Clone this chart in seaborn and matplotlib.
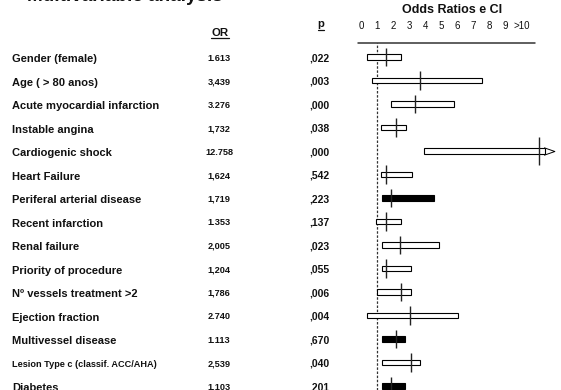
import numpy as np
import matplotlib
matplotlib.use("Agg")
import matplotlib.pyplot as plt
from matplotlib.lines import Line2D
from matplotlib.transforms import blended_transform_factory
import seaborn as sns

# ---- data ----
labels = ["Gender (female)", "Age ( > 80 anos)", "Acute myocardial infarction",
          "Instable angina", "Cardiogenic shock", "Heart Failure",
          "Periferal arterial disease", "Recent infarction", "Renal failure",
          "Priority of procedure", "N\u00ba vessels treatment >2", "Ejection fraction",
          "Multivessel disease", "Lesion Type c (classif. ACC/AHA)", "Diabetes"]
or_text = ["1.613", "3,439", "3.276", "1,732", "12.758", "1,624", "1,719", "1.353",
           "2,005", "1,204", "1,786", "2.740", "1.113", "2,539", "1.103"]
p_text = [",022", ",003", ",000", ",038", ",000", ",542", ",223", ",137",
          ",023", ",055", ",006", ",004", ",670", ",040", ",201"]
# positions as drawn on the odds-ratio scale
or_pos = [1.56, 3.68, 3.35, 2.16, 11.1, 1.58, 1.89, 1.56, 2.43, 1.56, 2.48, 3.08, 2.18, 3.1, 1.89]
ci_low = [0.39, 0.67, 1.89, 1.27, 3.95, 1.27, 1.29, 0.96, 1.33, 1.29, 0.98, 0.39, 1.33, 1.29, 1.33]
ci_high = [2.51, 7.57, 5.78, 2.79, 11.48, 3.2, 4.55, 2.51, 4.87, 3.1, 3.1, 6.07, 2.77, 3.7, 2.77]
filled = [False, False, False, False, False, False, True, False, False, False,
          False, False, True, False, True]
tick_vals = list(range(11))
tick_labels = ["0", "1", "2", "3", "4", "5", "6", "7", "8", "9", ">10"]

sns.set_theme(style="white")
plt.rcParams["font.family"] = ["Liberation Sans", "DejaVu Sans"]

W, H = 561, 390
fig = plt.figure(figsize=(W / 100, H / 100), dpi=100)


def fx(px):
    return px / W


def fy(py):
    return 1 - py / H


# forest panel: x scale 0 -> 361 px, 16.03 px per unit
x0, unit = 361.0, 16.03
ax_left, ax_right = 345.0, 561.0
ax_top = 43.0
ax = fig.add_axes([fx(ax_left), 0, fx(ax_right - ax_left), (H - ax_top) / H])
ax.set_xlim((ax_left - x0) / unit, (ax_right - x0) / unit)
row0, step = 57.0, 23.5
ax.set_ylim((H - row0) / step, (ax_top - row0) / step)
rows = np.arange(len(labels))

lo = np.array(ci_low)
hi = np.array(ci_high)
ax.barh(rows, hi - lo, left=lo, height=0.24,
        color=["black" if f else "white" for f in filled],
        edgecolor="black", linewidth=0.8, zorder=3)
half = np.where(hi > 10, 0.6, 0.4)
ax.vlines(or_pos, rows - half, rows + half, color="#222222", linewidth=1.0, zorder=4)

# open arrow for intervals beyond the scale
cap = hi > 10
sns.scatterplot(x=hi[cap] + 0.27, y=rows[cap], ax=ax,
                marker=[(-1, 0.7), (1, 0), (-1, -0.7)], s=60,
                facecolor="white", edgecolor="black", linewidth=0.7, zorder=2)

# reference line at OR = 1 and header rule
ax.axvline(1, color="#333333", linewidth=0.9, dashes=(2, 1.3), zorder=1)
ax.plot([(358 - x0) / unit, (535 - x0) / unit], [1, 1],
        transform=blended_transform_factory(ax.transData, ax.transAxes),
        color="#333333", linewidth=1.1, clip_on=False)

ax.xaxis.tick_top()
ax.set_xticks(tick_vals)
ax.set_xticklabels(tick_labels, fontsize=7)
ax.tick_params(axis="x", length=0, pad=8.5, colors="#111111")
ax.set_yticks([])
ax.grid(False)
sns.despine(ax=ax, left=True, bottom=True, top=True, right=True)

# text columns
tr = blended_transform_factory(fig.transFigure, ax.transData)
for i, lab in enumerate(labels):
    small = "ACC/AHA" in lab
    ax.text(fx(12), i + 0.1, lab, transform=tr, ha="left", va="center",
            fontsize=6.6 if small else 8, fontweight="bold", color="#111111")
    ax.text(fx(219), i + 0.05, or_text[i], transform=tr, ha="center", va="center",
            fontsize=6.6, fontweight="bold", color="#111111")
    ax.text(fx(319), i + 0.05, p_text[i], transform=tr, ha="center", va="center",
            fontsize=7.5, fontweight="bold", color="#111111")

fig.text(fx(27), fy(1), "Multivariable analysis", ha="left", va="baseline",
         fontsize=13.6, fontweight="bold", color="#111111")
fig.text(fx(452), fy(12.7), "Odds Ratios e CI", ha="center", va="baseline",
         fontsize=9, fontweight="bold", color="#111111")
t_or = fig.text(fx(220), fy(36), "OR", ha="center", va="baseline",
                fontsize=8.2, fontweight="bold", color="#111111")
t_p = fig.text(fx(321), fy(27), "p", ha="center", va="baseline",
               fontsize=8.2, fontweight="bold", color="#111111")

# underline the column headers
fig.canvas.draw()
renderer = fig.canvas.get_renderer()
for t, under in [(t_or, 38), (t_p, 30)]:
    bb = t.get_window_extent(renderer)
    fig.add_artist(Line2D([bb.x0 / W, bb.x1 / W], [fy(under), fy(under)],
                          transform=fig.transFigure, color="#111111", linewidth=0.9))

fig.savefig("out.png", dpi=100)
plt.close(fig)
